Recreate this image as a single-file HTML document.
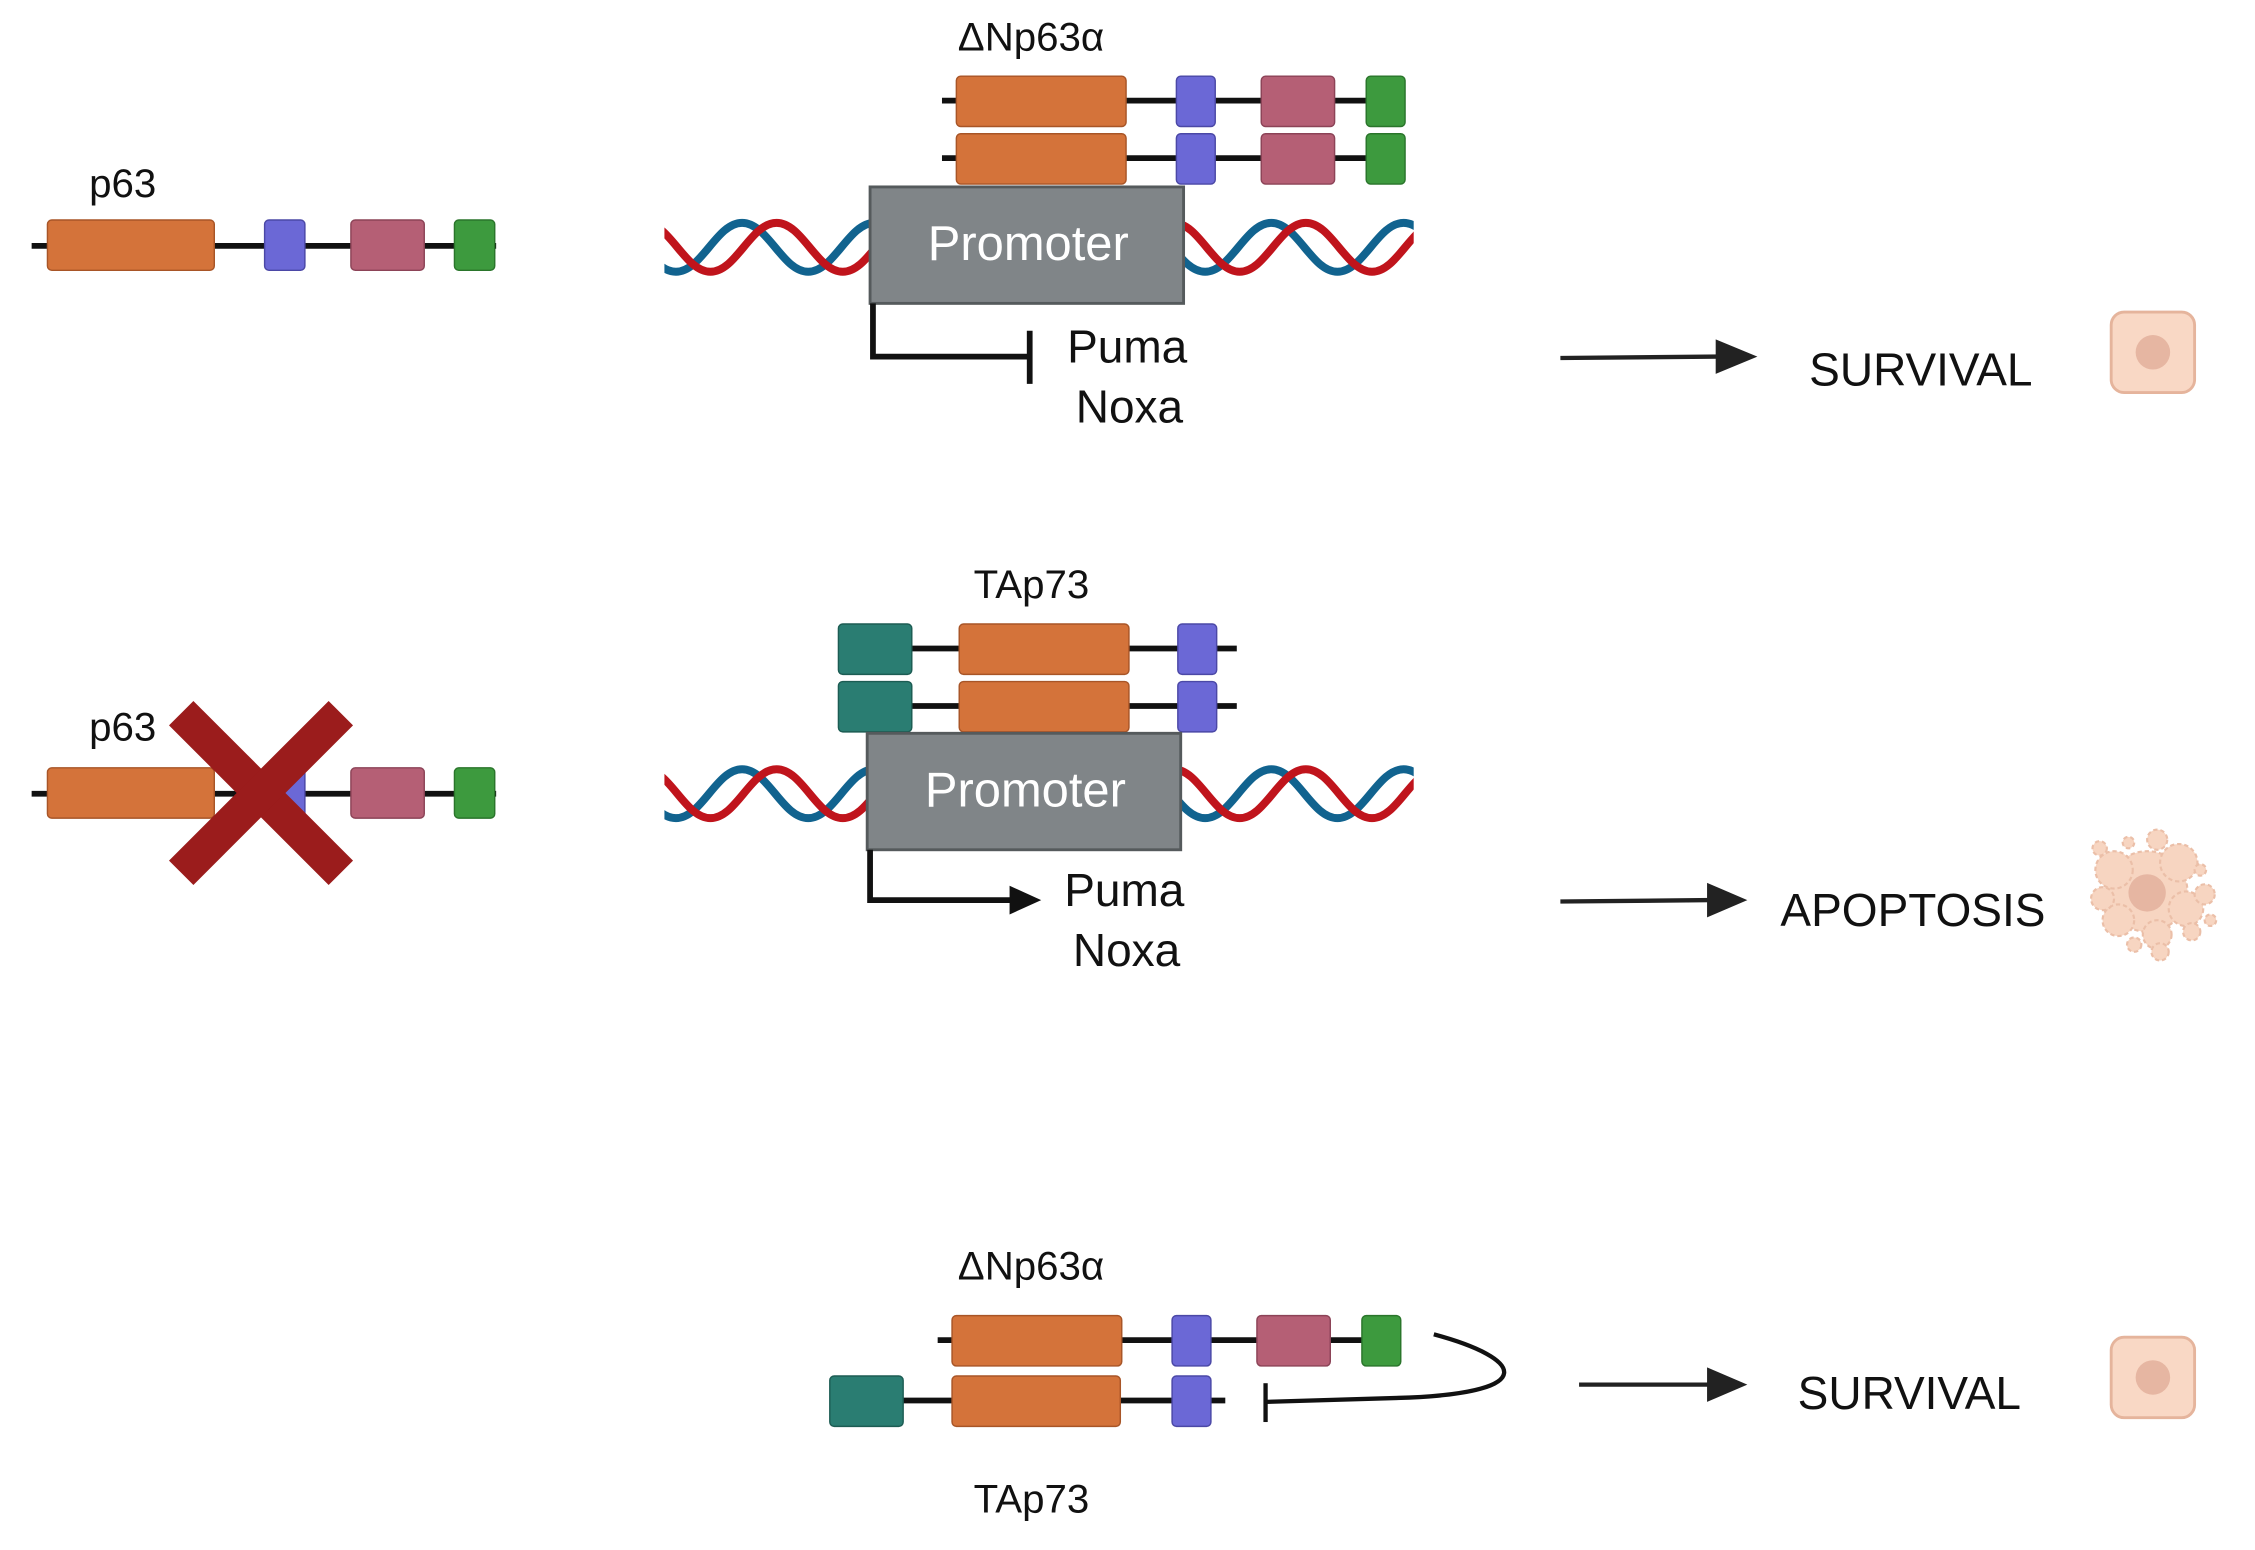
<!DOCTYPE html>
<html><head><meta charset="utf-8"><style>
html,body{margin:0;padding:0;background:#fff;}
svg{display:block;}
text{font-family:"Liberation Sans",sans-serif;fill:#111;}
</style></head><body>
<svg width="2255" height="1550" viewBox="0 0 1568 1078" preserveAspectRatio="none" xmlns="http://www.w3.org/2000/svg">
<defs>
<g id="prot4">
<line x1="-10" y1="17" x2="312" y2="17" stroke="#111" stroke-width="4"/>
<rect x="0" y="0" width="118" height="35" rx="3" fill="#d4733a" stroke="#a85527" stroke-width="1"/>
<rect x="153" y="0" width="27" height="35" rx="3" fill="#6b68d6" stroke="#4b48a6" stroke-width="1"/>
<rect x="212" y="0" width="51" height="35" rx="3" fill="#b55f75" stroke="#8c4357" stroke-width="1"/>
<rect x="285" y="0" width="27" height="35" rx="3" fill="#3d9a3e" stroke="#2a752b" stroke-width="1"/>
</g>
<g id="tap73">
<line x1="50" y1="17" x2="277" y2="17" stroke="#111" stroke-width="4"/>
<rect x="0" y="0" width="51" height="35" rx="3" fill="#2a7d72" stroke="#1c5c53" stroke-width="1"/>
<rect x="84" y="0" width="118" height="35" rx="3" fill="#d4733a" stroke="#a85527" stroke-width="1"/>
<rect x="236" y="0" width="27" height="35" rx="3" fill="#6b68d6" stroke="#4b48a6" stroke-width="1"/>
</g>
<path id="wave" d="M0,-17 c18,0 28,34 46,34 s28,-34 46,-34 s28,34 46,34 s28,-34 46,-34 s28,34 46,34 s28,-34 46,-34 s28,34 46,34 s28,-34 46,-34 s28,34 46,34 s28,-34 46,-34 s28,34 46,34 s28,-34 46,-34 s28,34 46,34 s28,-34 46,-34" fill="none" stroke-width="5.5"/>
<g id="dna">
<use href="#wave" x="-38" y="0" stroke="#11638f"/>
<use href="#wave" x="-14" y="0" stroke="#c0141c"/>
</g>
<g id="cell">
<rect x="0" y="0" width="58" height="56" rx="9" fill="#f9d8c5" stroke="#e5b49c" stroke-width="2"/>
<circle cx="29" cy="28" r="12" fill="#e6b6a2"/>
</g>
<clipPath id="c1"><rect x="462" y="140" width="521" height="64"/></clipPath>
<clipPath id="c2"><rect x="462" y="520" width="521" height="64"/></clipPath>
</defs>

<!-- Row 1 -->
<text x="62" y="137" font-size="28">p63</text>
<g transform="translate(33,153)">
<line x1="-11" y1="18" x2="312" y2="18" stroke="#111" stroke-width="4"/>
<rect x="0" y="0" width="116" height="35" rx="3" fill="#d4733a" stroke="#a85527"/>
<rect x="151" y="0" width="28" height="35" rx="3" fill="#6b68d6" stroke="#4b48a6"/>
<rect x="211" y="0" width="51" height="35" rx="3" fill="#b55f75" stroke="#8c4357"/>
<rect x="283" y="0" width="28" height="35" rx="3" fill="#3d9a3e" stroke="#2a752b"/>
</g>
<text x="666" y="35" font-size="28">ΔNp63α</text>
<use href="#prot4" x="665" y="53"/>
<use href="#prot4" x="665" y="93"/>
<g clip-path="url(#c1)"><use href="#dna" x="462" y="172"/></g>
<rect x="605" y="130" width="218" height="81" fill="#808588" stroke="#555a5c" stroke-width="2"/>
<text x="715" y="181" font-size="34" text-anchor="middle" style="fill:#fff">Promoter</text>
<polyline points="607,211 607,248 716,248" fill="none" stroke="#111" stroke-width="4"/>
<line x1="716" y1="230" x2="716" y2="267" stroke="#111" stroke-width="4"/>
<text x="742" y="252" font-size="32">Puma</text>
<text x="748" y="294" font-size="32">Noxa</text>
<line x1="1085" y1="249" x2="1196" y2="248" stroke="#222" stroke-width="3"/>
<polygon points="1193,236 1222,248 1193,260" fill="#222"/>
<text x="1258" y="268" font-size="32">SURVIVAL</text>
<use href="#cell" x="1468" y="217"/>

<!-- Row 2 -->
<text x="62" y="515" font-size="28">p63</text>
<g transform="translate(33,534)">
<line x1="-11" y1="18" x2="312" y2="18" stroke="#111" stroke-width="4"/>
<rect x="0" y="0" width="116" height="35" rx="3" fill="#d4733a" stroke="#a85527"/>
<rect x="151" y="0" width="28" height="35" rx="3" fill="#6b68d6" stroke="#4b48a6"/>
<rect x="211" y="0" width="51" height="35" rx="3" fill="#b55f75" stroke="#8c4357"/>
<rect x="283" y="0" width="28" height="35" rx="3" fill="#3d9a3e" stroke="#2a752b"/>
</g>
<line x1="126" y1="496" x2="237" y2="607" stroke="#9b1c1c" stroke-width="24"/>
<line x1="237" y1="496" x2="126" y2="607" stroke="#9b1c1c" stroke-width="24"/>
<text x="677" y="416" font-size="28">TAp73</text>
<use href="#tap73" x="583" y="434"/>
<use href="#tap73" x="583" y="474"/>
<g clip-path="url(#c2)"><use href="#dna" x="462" y="552"/></g>
<rect x="603" y="510" width="218" height="81" fill="#808588" stroke="#555a5c" stroke-width="2"/>
<text x="713" y="561" font-size="34" text-anchor="middle" style="fill:#fff">Promoter</text>
<polyline points="605,591 605,626 704,626" fill="none" stroke="#111" stroke-width="4"/>
<polygon points="702,616 724,626 702,636" fill="#111"/>
<text x="740" y="630" font-size="32">Puma</text>
<text x="746" y="672" font-size="32">Noxa</text>
<line x1="1085" y1="627" x2="1190" y2="626" stroke="#222" stroke-width="3"/>
<polygon points="1187,614 1215,626 1187,638" fill="#222"/>
<text x="1238" y="644" font-size="32">APOPTOSIS</text>
<g fill="#f7d5c1" stroke="#ebbfa8" stroke-width="1.5" stroke-dasharray="3,2">
<circle cx="1493" cy="620" r="28"/>
<circle cx="1470" cy="605" r="13"/><circle cx="1515" cy="600" r="13"/><circle cx="1520" cy="632" r="12"/>
<circle cx="1473" cy="640" r="11"/><circle cx="1500" cy="650" r="10"/><circle cx="1462" cy="625" r="8"/>
<circle cx="1500" cy="584" r="7"/><circle cx="1533" cy="622" r="7"/><circle cx="1502" cy="662" r="6"/>
<circle cx="1460" cy="590" r="5"/><circle cx="1480" cy="586" r="4"/><circle cx="1530" cy="605" r="4"/>
<circle cx="1524" cy="648" r="6"/><circle cx="1484" cy="657" r="5"/><circle cx="1537" cy="640" r="4"/>
</g>
<circle cx="1493" cy="621" r="13" fill="#e6b6a2"/>

<!-- Row 3 -->
<text x="666" y="890" font-size="28">ΔNp63α</text>
<use href="#prot4" x="662" y="915"/>
<g transform="translate(577,957)">
<line x1="50" y1="17" x2="275" y2="17" stroke="#111" stroke-width="4"/>
<rect x="0" y="0" width="51" height="35" rx="3" fill="#2a7d72" stroke="#1c5c53"/>
<rect x="85" y="0" width="117" height="35" rx="3" fill="#d4733a" stroke="#a85527"/>
<rect x="238" y="0" width="27" height="35" rx="3" fill="#6b68d6" stroke="#4b48a6"/>
</g>
<path d="M997,928 C1060,945 1070,968 980,972 L880,975" fill="none" stroke="#111" stroke-width="3"/>
<line x1="880" y1="962" x2="880" y2="989" stroke="#111" stroke-width="3"/>
<line x1="1098" y1="963" x2="1190" y2="963" stroke="#222" stroke-width="3"/>
<polygon points="1187,951 1215,963 1187,975" fill="#222"/>
<text x="1250" y="980" font-size="32">SURVIVAL</text>
<use href="#cell" x="1468" y="930"/>
<text x="677" y="1052" font-size="28">TAp73</text>
</svg>
</body></html>
